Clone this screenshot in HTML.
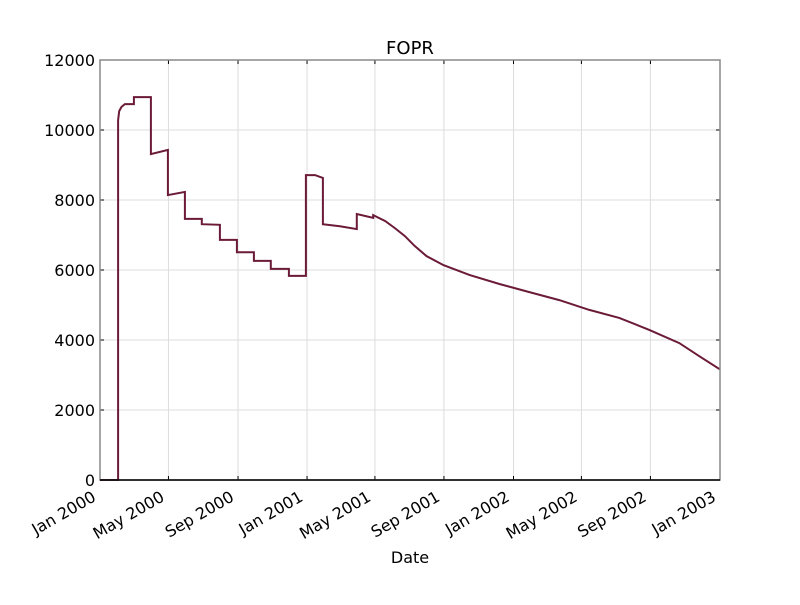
<!DOCTYPE html>
<html><head><meta charset="utf-8"><style>body{margin:0;background:#fff}text{font-family:"DejaVu Sans","Liberation Sans",sans-serif}</style></head>
<body>
<svg id="c" width="800" height="600" xmlns="http://www.w3.org/2000/svg"></svg>
<script>
const days = [0,32,32,34,38,44,60,60,90,90,120,120,150,150,180,180,212,212,242,242,272,272,302,302,334,334,364,364,380,394,394,424,454,454,483,483,504,521,539,556,577,607,653,706,759,812,865,918,971,1024,1059,1094,1096];
const values = [0,0,10280,10540,10660,10740,10740,10940,10940,9310,9430,8140,8230,7460,7460,7310,7290,6860,6860,6510,6510,6260,6260,6030,6030,5830,5830,8710,8710,8630,7310,7250,7170,7600,7490,7570,7400,7200,6970,6690,6400,6140,5860,5600,5370,5140,4860,4630,4290,3910,3540,3180,3170];
const yTicks = [0,2000,4000,6000,8000,10000,12000];
const xTickDays = [0,121,244,366,486,608,731,851,973,1096];
const xTickLabels = ["Jan 2000","May 2000","Sep 2000","Jan 2001","May 2001","Sep 2001","Jan 2002","May 2002","Sep 2002","Jan 2003"];
const L=100,R=720,T=60,B=480;
const X=d=>L+d*(R-L)/1096, Y=v=>B-v*(B-T)/12000;
const svg=document.getElementById('c'), NS='http://www.w3.org/2000/svg';
function mk(tag,attrs,txt){const e=document.createElementNS(NS,tag);for(const k in attrs)e.setAttribute(k,attrs[k]);if(txt!==undefined)e.textContent=txt;svg.appendChild(e);return e;}
yTicks.forEach(v=>{
  const g=mk('line',{x1:L,x2:R,y1:Y(v),y2:Y(v),stroke:'#ddd','stroke-width':1});
  
  
  mk('line',{x1:L,x2:L+4,y1:Y(v),y2:Y(v),stroke:'#000'});
  mk('line',{x1:R-4,x2:R,y1:Y(v),y2:Y(v),stroke:'#000'});
  const t=mk('text',{x:L-5,y:Y(v)+6,'text-anchor':'end','font-size':16},String(v));
  
  
});
xTickDays.forEach((d,i)=>{
  const x=X(d);
  const g=mk('line',{x1:x,x2:x,y1:T,y2:B,stroke:'#ddd','stroke-width':1});
  
  
  mk('line',{x1:x,x2:x,y1:B,y2:B-4,stroke:'#000'});
  mk('line',{x1:x,x2:x,y1:T,y2:T+4,stroke:'#000'});
  const t=mk('text',{x:x-3,y:B+20,'text-anchor':'end','font-size':16,transform:`rotate(-30 ${x-3} ${B+20})`},xTickLabels[i]);
  
  
});
const pts=days.map((d,i)=>X(d).toFixed(1)+','+Y(values[i]).toFixed(1)).join(' ');
const line=mk('polyline',{points:pts,fill:'none',stroke:'#6b1a38','stroke-width':2,'stroke-linejoin':'miter'});


const fr=mk('rect',{x:L,y:T,width:R-L,height:B-T,fill:'none',stroke:'#888','stroke-width':1.5});


mk('line',{x1:L,x2:R,y1:B,y2:B,stroke:'#000','stroke-width':1.5});
const ti=mk('text',{x:410,y:54,'text-anchor':'middle','font-size':18},'FOPR');


const xl=mk('text',{x:410,y:563,'text-anchor':'middle','font-size':16},'Date');


</script>
</body></html>
